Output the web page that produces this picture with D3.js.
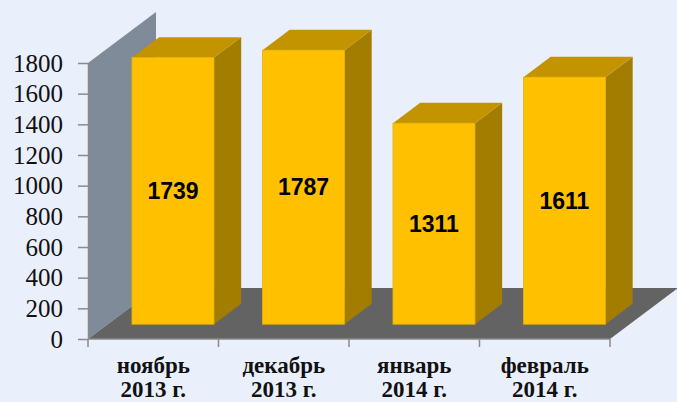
<!DOCTYPE html>
<html>
<head>
    <meta charset="utf-8">
    <title>3D Bar Chart</title>
    <script src="https://d3js.org/d3.v7.min.js"></script>
    <style>
        body { margin: 0; background: #eaeffc; }
    </style>
</head>
<body>
    <div id="chart"></div>

    <script>
        // chart data
        var months = ["ноябрь", "декабрь", "январь", "февраль"];
        var years = ["2013 г.", "2013 г.", "2014 г.", "2014 г."];
        var values = [1739, 1787, 1311, 1611];
        var yTicks = [0, 200, 400, 600, 800, 1000, 1200, 1400, 1600, 1800];

        var width = 677;
        var height = 402;

        // 3D depth offset of floor/wall
        var dx = 68, dy = -51;
        // bar placement within the depth
        var dA = 0.29, dB = 0.69;
        var barW = 82;

        var serif = "'Liberation Serif', 'Times New Roman', serif";

        var svg = d3.select("#chart")
            .append("svg")
            .attr("width", width)
            .attr("height", height);

        svg.append("rect")
            .attr("width", width)
            .attr("height", height)
            .attr("fill", "#eaeffc");

        var xScale = d3.scaleBand()
            .domain(months)
            .range([88, 610]);

        var yScale = d3.scaleLinear()
            .domain([0, 1800])
            .range([339, 63]);

        var x0 = xScale.range()[0], x1 = xScale.range()[1];
        var yb = yScale(0), yt = yScale(1800);

        function poly(pts) {
            return "M" + pts.map(function(p) { return p.join(","); }).join("L") + "Z";
        }

        // side wall
        svg.append("path")
            .attr("d", poly([[x0, yb], [x0, yt], [x0 + dx, yt + dy], [x0 + dx, yb + dy]]))
            .attr("fill", "#7f8b98");

        // floor
        svg.append("path")
            .attr("d", poly([[x0, yb], [x1, yb], [x1 + dx, yb + dy], [x0 + dx, yb + dy]]))
            .attr("fill", "#636363");

        // bars
        var bars = svg.selectAll("g.bar")
            .data(months)
            .enter()
            .append("g")
            .attr("class", "bar");

        var ox = dA * dx, oy = dA * dy;
        var ddx = (dB - dA) * dx, ddy = (dB - dA) * dy;

        function barGeom(d, i) {
            var left = xScale(d) + (xScale.bandwidth() - barW) / 2 + ox;
            var right = left + barW;
            var top = yScale(values[i]) + oy;
            var bottom = yScale(0) + oy;
            return { l: left, r: right, t: top, b: bottom };
        }

        bars.append("path")
            .attr("d", function(d, i) {
                var g = barGeom(d, i);
                return poly([[g.r, g.b], [g.r, g.t], [g.r + ddx, g.t + ddy], [g.r + ddx, g.b + ddy]]);
            })
            .attr("fill", "#a27d00");

        bars.append("path")
            .attr("d", function(d, i) {
                var g = barGeom(d, i);
                return poly([[g.l, g.t], [g.r, g.t], [g.r + ddx, g.t + ddy], [g.l + ddx, g.t + ddy]]);
            })
            .attr("fill", "#c49400");

        bars.append("rect")
            .attr("x", function(d, i) { return barGeom(d, i).l; })
            .attr("y", function(d, i) { return barGeom(d, i).t; })
            .attr("width", barW)
            .attr("height", function(d, i) { var g = barGeom(d, i); return g.b - g.t; })
            .attr("fill", "#ffc000")
            .attr("stroke", "#e6b000")
            .attr("stroke-width", 0.8);

        bars.append("text")
            .attr("x", function(d, i) { var g = barGeom(d, i); return (g.l + g.r) / 2; })
            .attr("y", function(d, i) { var g = barGeom(d, i); return (g.t + g.b) / 2; })
            .attr("dy", "0.36em")
            .attr("text-anchor", "middle")
            .attr("font-family", "Arial, 'Liberation Sans', sans-serif")
            .attr("font-weight", "bold")
            .attr("font-size", 23)
            .attr("fill", "#000")
            .text(function(d, i) { return values[i]; });

        // y axis
        var yAxis = svg.append("g")
            .attr("transform", "translate(" + x0 + ",0)")
            .call(d3.axisLeft(yScale)
                .tickValues(yTicks)
                .tickFormat(d3.format("d"))
                .tickSize(10)
                .tickSizeOuter(0)
                .tickPadding(15));
        yAxis.attr("font-family", serif).attr("font-size", 25);
        yAxis.select(".domain").attr("stroke", "#8a8a8a").attr("stroke-width", 1.5);
        yAxis.selectAll(".tick line").attr("stroke", "#8a8a8a").attr("stroke-width", 1.5);
        yAxis.selectAll(".tick text")
            .style("font-family", serif)
            .attr("font-size", 25)
            .attr("fill", "#111");

        // x axis
        svg.append("line")
            .attr("x1", x0).attr("x2", x1)
            .attr("y1", yb).attr("y2", yb)
            .attr("stroke", "#8a8a8a").attr("stroke-width", 1.5);

        var tickPos = months.map(function(m) { return xScale(m); }).concat([x1]);
        svg.selectAll("line.xtick")
            .data(tickPos)
            .enter()
            .append("line")
            .attr("class", "xtick")
            .attr("x1", function(d) { return d; })
            .attr("x2", function(d) { return d; })
            .attr("y1", yb)
            .attr("y2", yb + 8)
            .attr("stroke", "#8a8a8a")
            .attr("stroke-width", 1.5);

        var labels = svg.selectAll("text.xlabel")
            .data(months)
            .enter()
            .append("text")
            .attr("class", "xlabel")
            .attr("text-anchor", "middle")
            .style("font-family", serif)
            .attr("font-weight", "bold")
            .attr("font-size", 23)
            .attr("fill", "#111");

        labels.append("tspan")
            .attr("x", function(d) { return xScale(d) + xScale.bandwidth() / 2; })
            .attr("y", 373)
            .text(function(d) { return d; });

        labels.append("tspan")
            .attr("x", function(d) { return xScale(d) + xScale.bandwidth() / 2; })
            .attr("y", 397)
            .text(function(d, i) { return years[i]; });
    </script>
</body>
</html>
